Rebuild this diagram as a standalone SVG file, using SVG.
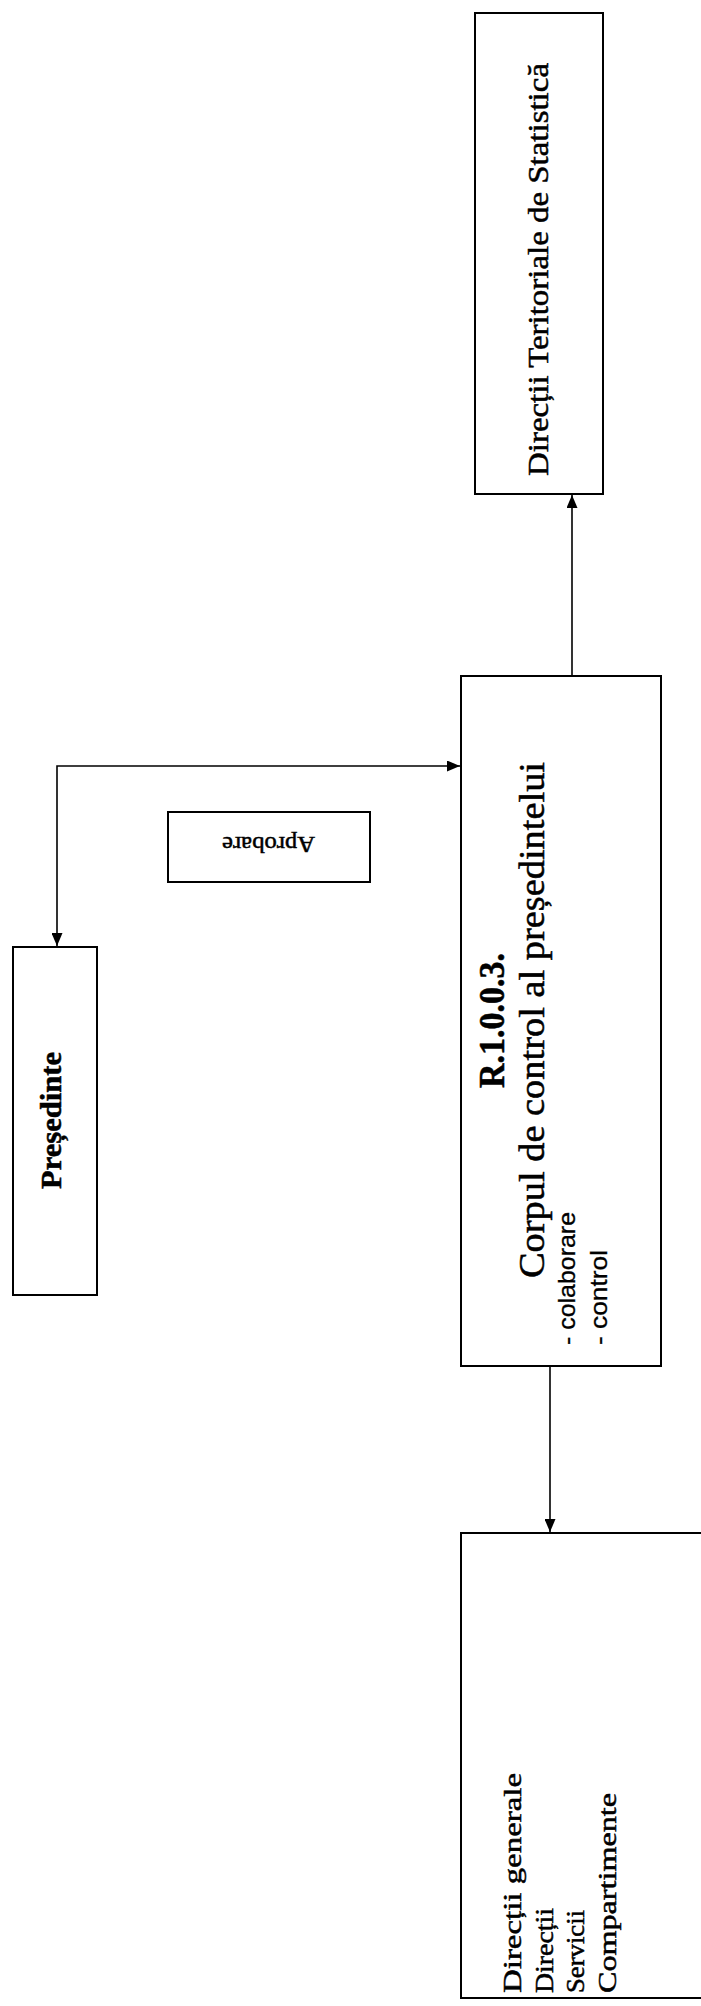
<svg xmlns="http://www.w3.org/2000/svg" width="701" height="2006" viewBox="0 0 701 2006">
<defs>
<marker id="arr" markerWidth="13" markerHeight="11" refX="13" refY="5.5" orient="auto-start-reverse" markerUnits="userSpaceOnUse"><path d="M0,0 L13,5.5 L0,11 z" fill="#000"/></marker>
</defs>
<style>
.box{fill:#fff;stroke:#000;stroke-width:2}
.serif{font-family:"Liberation Serif","Times New Roman",serif;fill:#000;stroke:#000;stroke-width:0.5}
.sans{font-family:"Liberation Sans",Arial,sans-serif;fill:#000;stroke:#000;stroke-width:0.3}
.bold{font-weight:bold}
.conn{fill:none;stroke:#000;stroke-width:1.6}
</style>
<rect width="701" height="2006" fill="#fff"/>
<g id="connectors">
<path class="conn" d="M572,676 V495" marker-end="url(#arr)"/>
<path class="conn" d="M550,1366 V1532" marker-end="url(#arr)"/>
<path class="conn" d="M57,946 V766 H460" marker-start="url(#arr)" marker-end="url(#arr)"/>
</g>
<g id="directii-teritoriale">
<rect class="box" x="475" y="13" width="128" height="481"/>
<text class="serif" font-size="29" transform="translate(548,476) rotate(-90)" textLength="413" lengthAdjust="spacingAndGlyphs">Direcții Teritoriale de Statistică</text>
</g>
<g id="presedinte">
<rect class="box" x="13" y="947" width="84" height="348"/>
<text class="serif bold" font-size="29" transform="translate(61,1189) rotate(-90)" textLength="137" lengthAdjust="spacingAndGlyphs">Președinte</text>
</g>
<g id="aprobare">
<rect class="box" x="168" y="812" width="202" height="70"/>
<text class="serif" font-size="23" transform="translate(315,837) rotate(180)" textLength="93" lengthAdjust="spacingAndGlyphs">Aprobare</text>
</g>
<g id="corpul-control">
<rect class="box" x="461" y="676" width="200" height="690"/>
<text class="serif bold" font-size="35" transform="translate(504,1088) rotate(-90)" textLength="135" lengthAdjust="spacingAndGlyphs">R.1.0.0.3.</text>
<text class="serif" font-size="36" transform="translate(544,1278) rotate(-90)" textLength="516" lengthAdjust="spacingAndGlyphs">Corpul de control al președintelui</text>
<text class="sans" font-size="24" transform="translate(575,1345) rotate(-90)" textLength="133" lengthAdjust="spacingAndGlyphs">- colaborare</text>
<text class="sans" font-size="24" transform="translate(607,1345) rotate(-90)" textLength="95" lengthAdjust="spacingAndGlyphs">- control</text>
</g>
<g id="compartimente">
<rect class="box" x="461" y="1533" width="270" height="465"/>
<text class="serif" font-size="26" transform="translate(521,1993) rotate(-90)" textLength="220" lengthAdjust="spacingAndGlyphs">Direcții generale</text>
<text class="serif" font-size="26" transform="translate(553,1993) rotate(-90)" textLength="85" lengthAdjust="spacingAndGlyphs">Direcții</text>
<text class="serif" font-size="26" transform="translate(584,1993) rotate(-90)" textLength="83" lengthAdjust="spacingAndGlyphs">Servicii</text>
<text class="serif" font-size="26" transform="translate(616,1993) rotate(-90)" textLength="200" lengthAdjust="spacingAndGlyphs">Compartimente</text>
</g>
</svg>
